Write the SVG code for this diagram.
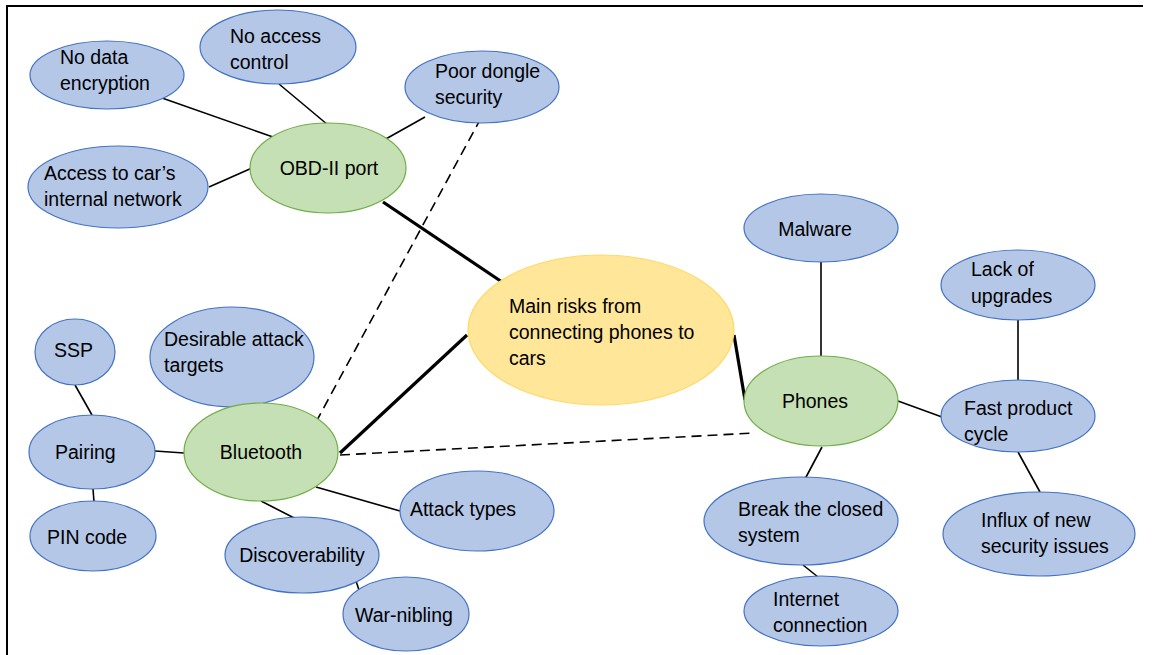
<svg xmlns="http://www.w3.org/2000/svg" width="1152" height="655" viewBox="0 0 1152 655">
<style>
  .b { fill: #b4c7e7; stroke: #4472c4; stroke-width: 1.2; }
  .g { fill: #c5e0b4; stroke: #70ad47; stroke-width: 1.2; }
  .y { fill: #ffe699; stroke: #ffd966; stroke-width: 1.2; }
  text { font-family: "Liberation Sans", Arial, sans-serif; font-size: 19.5px; fill: #000; }
  .c { text-anchor: middle; }
  .ln { stroke: #000; stroke-width: 1.6; fill: none; }
  .th { stroke: #000; stroke-width: 3.2; fill: none; }
  .ds { stroke: #000; stroke-width: 1.6; stroke-dasharray: 10 6; fill: none; }
</style>
<rect x="0" y="0" width="1152" height="655" fill="#fff"/>
<path d="M7,655 V6 H1143" fill="none" stroke="#000" stroke-width="2"/>
<g id="connectors">
  <line class="ln" x1="162" y1="98" x2="273" y2="137"/>
  <line class="ln" x1="279" y1="84" x2="328" y2="125"/>
  <line class="ln" x1="425" y1="117" x2="384" y2="140"/>
  <line class="ln" x1="209" y1="187" x2="252" y2="168"/>
  <line class="th" x1="383" y1="202" x2="505" y2="284"/>
  <line class="ds" x1="481" y1="118" x2="316" y2="422"/>
  <line class="th" x1="467" y1="335" x2="340" y2="453"/>
  <line class="th" x1="734" y1="335" x2="745" y2="400"/>
  <line class="ds" x1="340" y1="455" x2="755" y2="433"/>
  <line class="ln" x1="821" y1="262" x2="821" y2="356" stroke="#444"/>
  <line class="ln" x1="1018" y1="319" x2="1018" y2="381"/>
  <line class="ln" x1="898" y1="401" x2="942" y2="417"/>
  <line class="ln" x1="822" y1="447" x2="805" y2="479"/>
  <line class="ln" x1="1018" y1="452" x2="1040" y2="492"/>
  <line class="ln" x1="803" y1="565" x2="818" y2="577"/>
  <line class="ln" x1="75" y1="385" x2="92" y2="415"/>
  <line class="ln" x1="93" y1="489" x2="94" y2="502"/>
  <line class="ln" x1="155" y1="451" x2="184" y2="453"/>
  <line class="ln" x1="232" y1="408" x2="261" y2="421"/>
  <line class="ln" x1="316" y1="487" x2="400" y2="511"/>
  <line class="ln" x1="261" y1="501" x2="302" y2="522"/>
  <line class="ln" x1="355" y1="578" x2="361" y2="596"/>
</g>
<g id="no-data-encryption"><ellipse class="b" cx="107" cy="75" rx="77" ry="34"/><text x="60" y="64">No data</text><text x="60" y="90">encryption</text></g>
<g id="no-access-control"><ellipse class="b" cx="278" cy="47" rx="78" ry="37"/><text x="230" y="43">No access</text><text x="230" y="69">control</text></g>
<g id="poor-dongle-security"><ellipse class="b" cx="482" cy="87" rx="77" ry="36"/><text x="435" y="78">Poor dongle</text><text x="435" y="104">security</text></g>
<g id="access-internal-network"><ellipse class="b" cx="118" cy="187" rx="90" ry="41"/><text x="44" y="180">Access to car’s</text><text x="44" y="206">internal network</text></g>
<g id="obd-ii-port"><ellipse class="g" cx="328" cy="168" rx="78" ry="45"/><text class="c" x="329" y="175">OBD-II port</text></g>
<g id="main-risks"><ellipse class="y" cx="601" cy="330" rx="133" ry="75"/><text x="509" y="313">Main risks from</text><text x="509" y="339">connecting phones to</text><text x="509" y="365">cars</text></g>
<g id="malware"><ellipse class="b" cx="821" cy="228" rx="77" ry="34"/><text class="c" x="815" y="236">Malware</text></g>
<g id="lack-of-upgrades"><ellipse class="b" cx="1018" cy="285" rx="77" ry="35"/><text x="971" y="276">Lack of</text><text x="971" y="303">upgrades</text></g>
<g id="phones"><ellipse class="g" cx="821" cy="401" rx="77" ry="45"/><text class="c" x="815" y="408">Phones</text></g>
<g id="fast-product-cycle"><ellipse class="b" cx="1018" cy="416" rx="77" ry="36"/><text x="964" y="415">Fast product</text><text x="964" y="441">cycle</text></g>
<g id="break-closed-system"><ellipse class="b" cx="801" cy="521" rx="97" ry="44"/><text x="738" y="516">Break the closed</text><text x="738" y="542">system</text></g>
<g id="internet-connection"><ellipse class="b" cx="821" cy="611" rx="77" ry="35"/><text x="773" y="606">Internet</text><text x="773" y="632">connection</text></g>
<g id="influx-security-issues"><ellipse class="b" cx="1039" cy="534" rx="96" ry="42"/><text x="981" y="527">Influx of new</text><text x="981" y="553">security issues</text></g>
<g id="ssp"><ellipse class="b" cx="75" cy="352" rx="40" ry="33"/><text x="54" y="357">SSP</text></g>
<g id="desirable-attack-targets"><ellipse class="b" cx="232" cy="357" rx="82" ry="50"/><text x="164" y="346">Desirable attack</text><text x="164" y="372">targets</text></g>
<g id="pairing"><ellipse class="b" cx="92" cy="452" rx="63" ry="37"/><text x="55" y="459">Pairing</text></g>
<g id="bluetooth"><ellipse class="g" cx="261" cy="452" rx="77" ry="49"/><text class="c" x="261" y="459">Bluetooth</text></g>
<g id="pin-code"><ellipse class="b" cx="93" cy="536" rx="63" ry="35"/><text x="47" y="544">PIN code</text></g>
<g id="attack-types"><ellipse class="b" cx="477" cy="511" rx="77" ry="40"/><text class="c" x="463" y="516">Attack types</text></g>
<g id="discoverability"><ellipse class="b" cx="302" cy="555" rx="77" ry="38"/><text class="c" x="302" y="562">Discoverability</text></g>
<g id="war-nibling"><ellipse class="b" cx="406" cy="614" rx="63" ry="37"/><text x="355" y="622">War-nibling</text></g>
</svg>
